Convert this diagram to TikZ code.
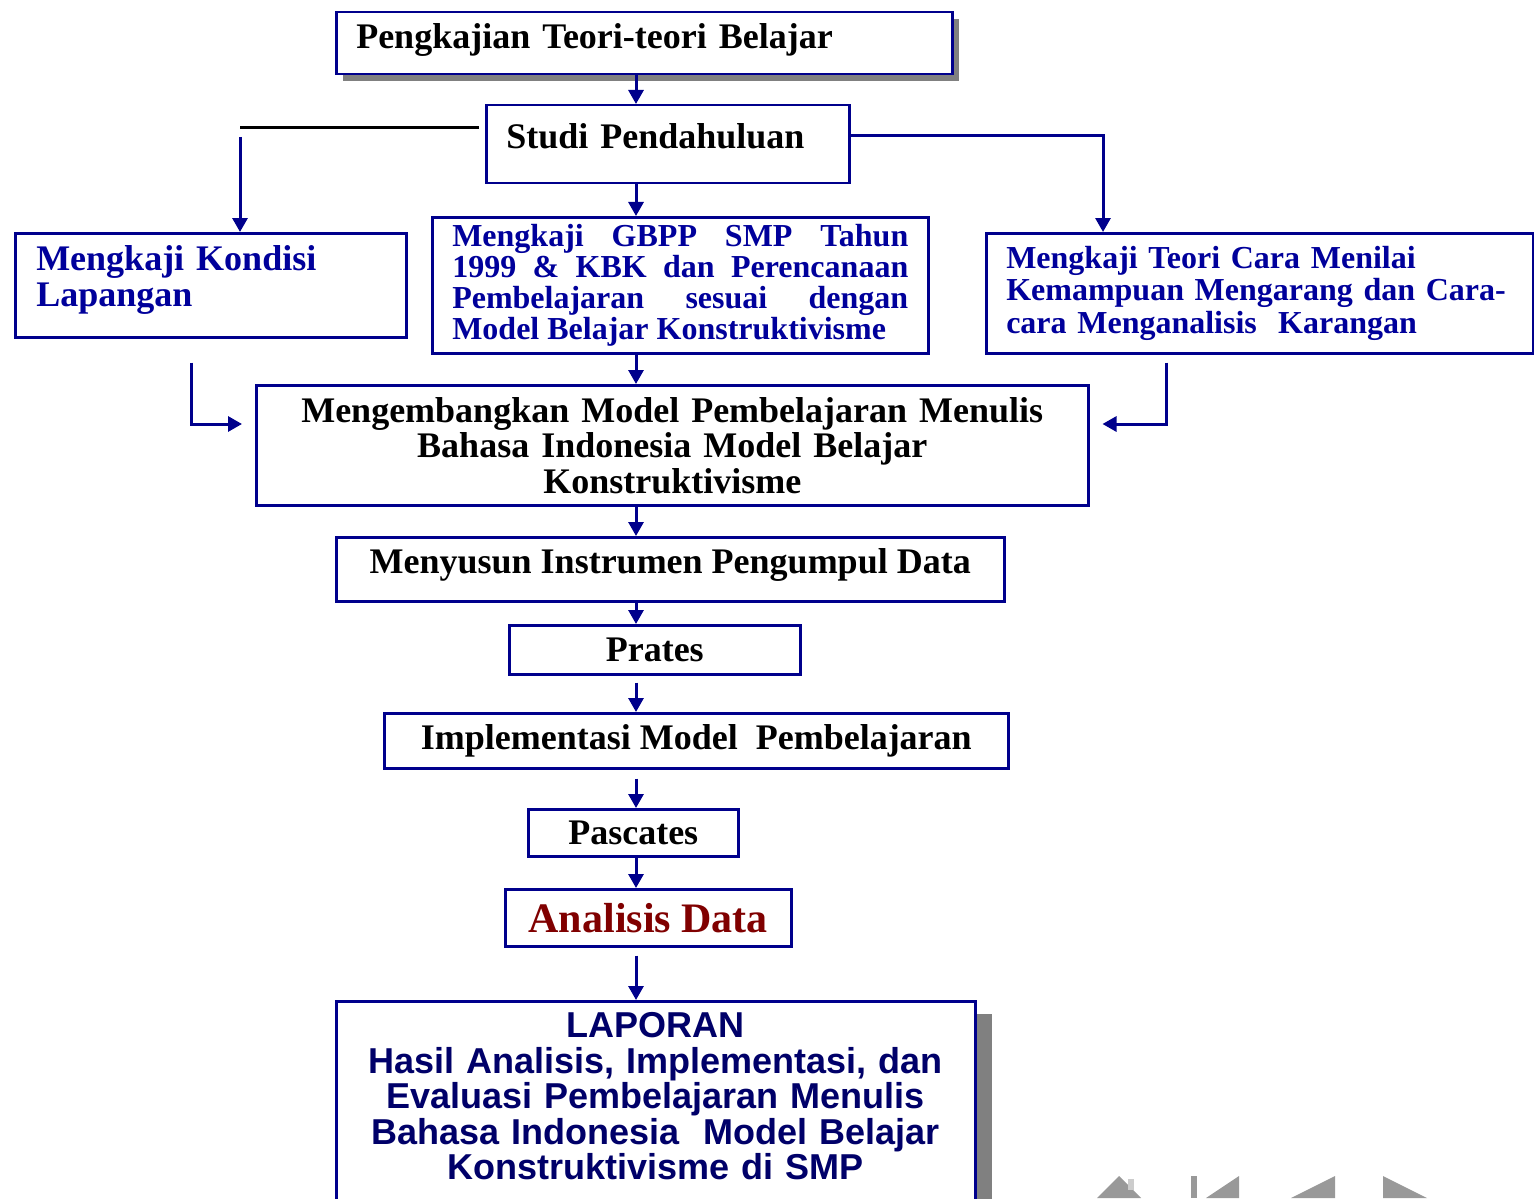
\documentclass[tikz,border=0pt]{standalone}
\usepackage{fontspec}
\setmainfont{Liberation Serif}
\newfontfamily\arialfont{Liberation Sans}
\usepackage{tikz}
\usetikzlibrary{arrows.meta,shadows}

\definecolor{navy}{RGB}{0,0,140}
\definecolor{txtblue}{RGB}{0,0,155}
\definecolor{laptext}{RGB}{0,0,105}
\definecolor{darkred}{RGB}{128,0,0}
\definecolor{shadowgray}{RGB}{128,128,128}
\definecolor{navgray}{RGB}{153,153,153}
\definecolor{navlight}{RGB}{204,204,204}

\tikzset{
  box/.style={draw=navy, line width=1.25pt, fill=white, inner sep=0pt, anchor=north west},
  bigtext/.style={font=\fontsize{18pt}{17.75pt}\selectfont\bfseries},
  smalltext/.style={font=\fontsize{16pt}{16pt}\selectfont\bfseries, text=txtblue},
  link/.style={navy, line width=1.5pt, -{Triangle[length=7pt,width=7.5pt]}},
}

\begin{document}
\begin{tikzpicture}[x=0.5pt, y=-0.5pt]
  \useasboundingbox (0,0) rectangle (1534,1198);
  \clip (0,0) rectangle (1534,1198);
  % main column
  \coordinate (axis) at (636,0);
  \node[box, bigtext, minimum width=308pt, minimum height=31pt, text width=288pt, align=left, text depth=7.4pt,
        drop shadow={shadow xshift=3.5pt, shadow yshift=-3.5pt, fill=shadowgray, opacity=1}]
        (pengkajian) at (335,11) {Pengkajian Teori-teori Belajar};
  \node[box, bigtext, minimum width=181.5pt, minimum height=39pt, text width=161.5pt, align=left, text depth=8.5pt]
        (studi) at (485,104) {Studi Pendahuluan};
  % three studies
  \node[box, font=\fontsize{18pt}{18pt}\selectfont\bfseries, text=txtblue, minimum width=195.5pt, minimum height=52pt,
        text width=174.5pt, align=left, text depth=27.4pt]
        (kondisi) at (14,232) {Mengkaji Kondisi\\Lapangan};
  \node[box, smalltext, font=\fontsize{16pt}{15.5pt}\selectfont\bfseries, minimum width=248pt, minimum height=68pt,
        text width=228pt, align=justify]
        (gbpp) at (431,216) {Mengkaji GBPP SMP Tahun\linebreak 1999 \& KBK dan Perencanaan\linebreak Pembelajaran sesuai dengan\linebreak Model Belajar Konstruktivisme};
  \node[box, smalltext, font=\fontsize{16pt}{16.25pt}\selectfont\bfseries, minimum width=273.5pt, minimum height=60pt,
        text width=253.5pt, align=left]
        (teori) at (985,232) {Mengkaji Teori Cara Menilai\\Kemampuan Mengarang dan Cara-\\cara Menganalisis~~Karangan};
  % development and steps
  \node[box, bigtext, minimum width=416pt, minimum height=60pt, text width=400pt, align=center]
        (mengembangkan) at (255,384) {Mengembangkan Model Pembelajaran Menulis\\Bahasa Indonesia Model Belajar\\Konstruktivisme};
  \node[box, bigtext, minimum width=334pt, minimum height=32pt, text depth=8.5pt]
        (menyusun) at (335,536) {Menyusun Instrumen Pengumpul Data};
  \node[box, bigtext, minimum width=145.5pt, minimum height=24.5pt] (prates) at (508,624) {Prates};
  \node[box, bigtext, minimum width=312pt, minimum height=27.5pt]
        (implementasi) at (383,712) {Implementasi Model~~Pembelajaran};
  \node[box, bigtext, minimum width=105pt, minimum height=23.5pt] (pascates) at (527,808) {Pascates};
  \node[box, font=\fontsize{21pt}{21pt}\selectfont\bfseries, text=darkred, minimum width=143pt, minimum height=28.5pt]
        (analisis) at (504,888) {Analisis Data};
  \node[box, font=\arialfont\fontsize{18pt}{17.75pt}\selectfont\bfseries, text=laptext, minimum width=319.5pt,
        minimum height=110pt, text width=300pt, align=center, text depth=85.9pt,
        drop shadow={shadow xshift=8.5pt, shadow yshift=-6.5pt, fill=shadowgray, opacity=1}]
        (laporan) at (335,1000) {LAPORAN\\Hasil Analisis, Implementasi, dan\\Evaluasi Pembelajaran Menulis\\Bahasa Indonesia~~Model Belajar\\Konstruktivisme di SMP};

  % arrows down the column
  \draw[link] (pengkajian.south -| axis) -- (studi.north -| axis);
  \draw[link] (studi.south -| axis) -- (gbpp.north -| axis);
  \draw[link] (gbpp.south -| axis) -- (mengembangkan.north -| axis);
  \draw[link] (mengembangkan.south -| axis) -- (menyusun.north -| axis);
  \draw[link] (menyusun.south -| axis) -- (prates.north -| axis);
  \draw[link] ([yshift=-3.5pt]prates.south -| axis) -- (implementasi.north -| axis);
  \draw[link] ([yshift=-4.5pt]implementasi.south -| axis) -- (pascates.north -| axis);
  \draw[link] (pascates.south -| axis) -- (analisis.north -| axis);
  \draw[link] ([yshift=-4pt]analisis.south -| axis) -- (laporan.north -| axis);

  % branches from studi
  \coordinate (lfork) at (240,128);
  \coordinate (rfork) at (1103,136);
  \draw[line width=1.5pt] ([xshift=-3pt]studi.west |- lfork) -- (lfork);
  \draw[link] ([yshift=-4.5pt]lfork) -- (kondisi.north -| lfork);
  \draw[link] (studi.east |- rfork) -- (rfork) -- (teori.north -| rfork);

  % side inputs
  \coordinate (lbend) at (191,424);
  \coordinate (rbend) at (1166,424);
  \draw[link] ([yshift=-12pt]kondisi.south -| lbend) -- (lbend) -- ([xshift=-6.5pt]mengembangkan.west |- lbend);
  \draw[link] ([yshift=-4pt]teori.south -| rbend) -- (rbend) -- ([xshift=6.5pt]mengembangkan.east |- rbend);

  % navigation buttons
  \fill[navgray] (1097,1198) -- (1119,1176) -- (1141,1198) -- cycle;
  \fill[navlight] (1128,1179) rectangle (1134,1190);
  \fill[navgray] (1191,1176) rectangle (1197,1198);
  \fill[navgray] (1206,1198) -- (1239,1176) -- (1239,1198) -- cycle;
  \fill[navgray] (1291,1198) -- (1335,1176) -- (1335,1198) -- cycle;
  \fill[navgray] (1383,1176) -- (1383,1198) -- (1427,1198) -- cycle;
\end{tikzpicture}
\end{document}
